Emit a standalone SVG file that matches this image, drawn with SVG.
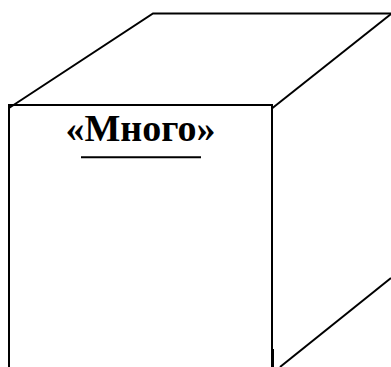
<svg xmlns="http://www.w3.org/2000/svg" width="391" height="367" viewBox="0 0 391 367">
<style>
.l{fill:none;stroke:#000;stroke-width:2}
.t{font-family:"Liberation Serif","Times New Roman",serif;font-weight:700;font-size:38px;fill:#000}
</style>
<rect width="391" height="367" fill="#fff"/>
<g id="connectors">
<path class="l" d="M9 108L153 13.500H391"/>
<path class="l" d="M272.500 108L391 14"/>
<path class="l" d="M280 367L391 278"/>
</g>
<g id="node-mnogo">
<path class="l" d="M9 367V105H272V367"/>
<path d="M271 349h3v18h-3z" fill="#000"/>
<text class="t" x="140.500" y="141" text-anchor="middle">«Много»</text>
<path class="l" d="M81 157.300H201" stroke="#222"/>
</g>
</svg>
